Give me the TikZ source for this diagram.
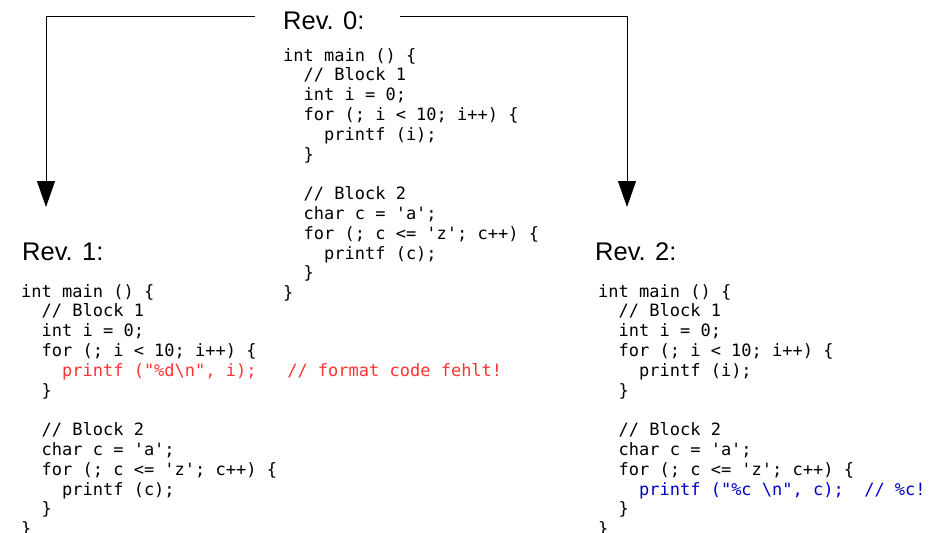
\documentclass[tikz,border=0pt]{standalone}
\usepackage{fontspec}
\usepackage{xcolor}
\usepackage{tikz}
\usetikzlibrary{positioning}
\usetikzlibrary{arrows.meta}
\newfontfamily\titlefont{Liberation Sans}
\newfontfamily\codefont{DejaVu Sans Mono}
\definecolor{fixred}{RGB}{255,51,51}
\definecolor{fixblue}{RGB}{0,0,204}
\newcommand{\codeind}{\phantom{xx}}
\newcommand{\sq}{\textquotesingle}
% #1: printf line of block 1, #2: printf line of block 2
\newcommand{\codeblock}[2]{%
  int main () \{\\
  \codeind// Block 1\\
  \codeind int i = 0;\\
  \codeind for (; i < 10; i++) \{\\
  \codeind\codeind #1\\
  \codeind\}\\
  \mbox{}\\
  \codeind// Block 2\\
  \codeind char c = \sq a\sq;\\
  \codeind for (; c <= \sq z\sq; c++) \{\\
  \codeind\codeind #2\\
  \codeind\}\\
  \}}
\tikzset{
  revtitle/.style={anchor=base west, inner sep=0pt, font={\titlefont\fontsize{25.5}{30}\selectfont}},
  code/.style={anchor=north west, inner sep=0pt, align=left,
    font={\codefont\fontsize{17}{19.8}\selectfont\frenchspacing}},
  flow/.style={line width=1pt, -{Triangle[length=26pt,width=18pt]}}
}

\begin{document}
\begin{tikzpicture}[x=1pt,y=-1pt]
            \useasboundingbox (0,0) rectangle (943,533);
            % Rev. 0 (top)
            \node[revtitle] (rev0) at (283,29) {Rev. 0:};
            \node[code] (code0) at (283,48) {\codeblock{printf (i);}{printf (c);}};
            % Rev. 1 (left)
            \node[revtitle] (rev1) at (22,260) {Rev. 1:};
            \node[code] (code1) at (21,284) {\codeblock{\textcolor{fixred}{printf ("\%d\textbackslash n", i);\ \ \ // format code fehlt!}}{printf (c);}};
            % Rev. 2 (right)
            \node[revtitle] (rev2) at (595,260) {Rev. 2:};
            \node[code] (code2) at (598,284) {\codeblock{printf (i);}{\textcolor{fixblue}{printf ("\%c \textbackslash n", c);\ \ // \%c!}}};
            % connectors
            \coordinate (in1) at (46,207);
            \coordinate (in2) at (627,207);
            \draw[flow] ([shift={(-28,-4)}]rev0.west) -| (in1);
            \draw[flow] ([shift={(35,-4)}]rev0.east) -| (in2);
        \end{tikzpicture}
\end{document}
